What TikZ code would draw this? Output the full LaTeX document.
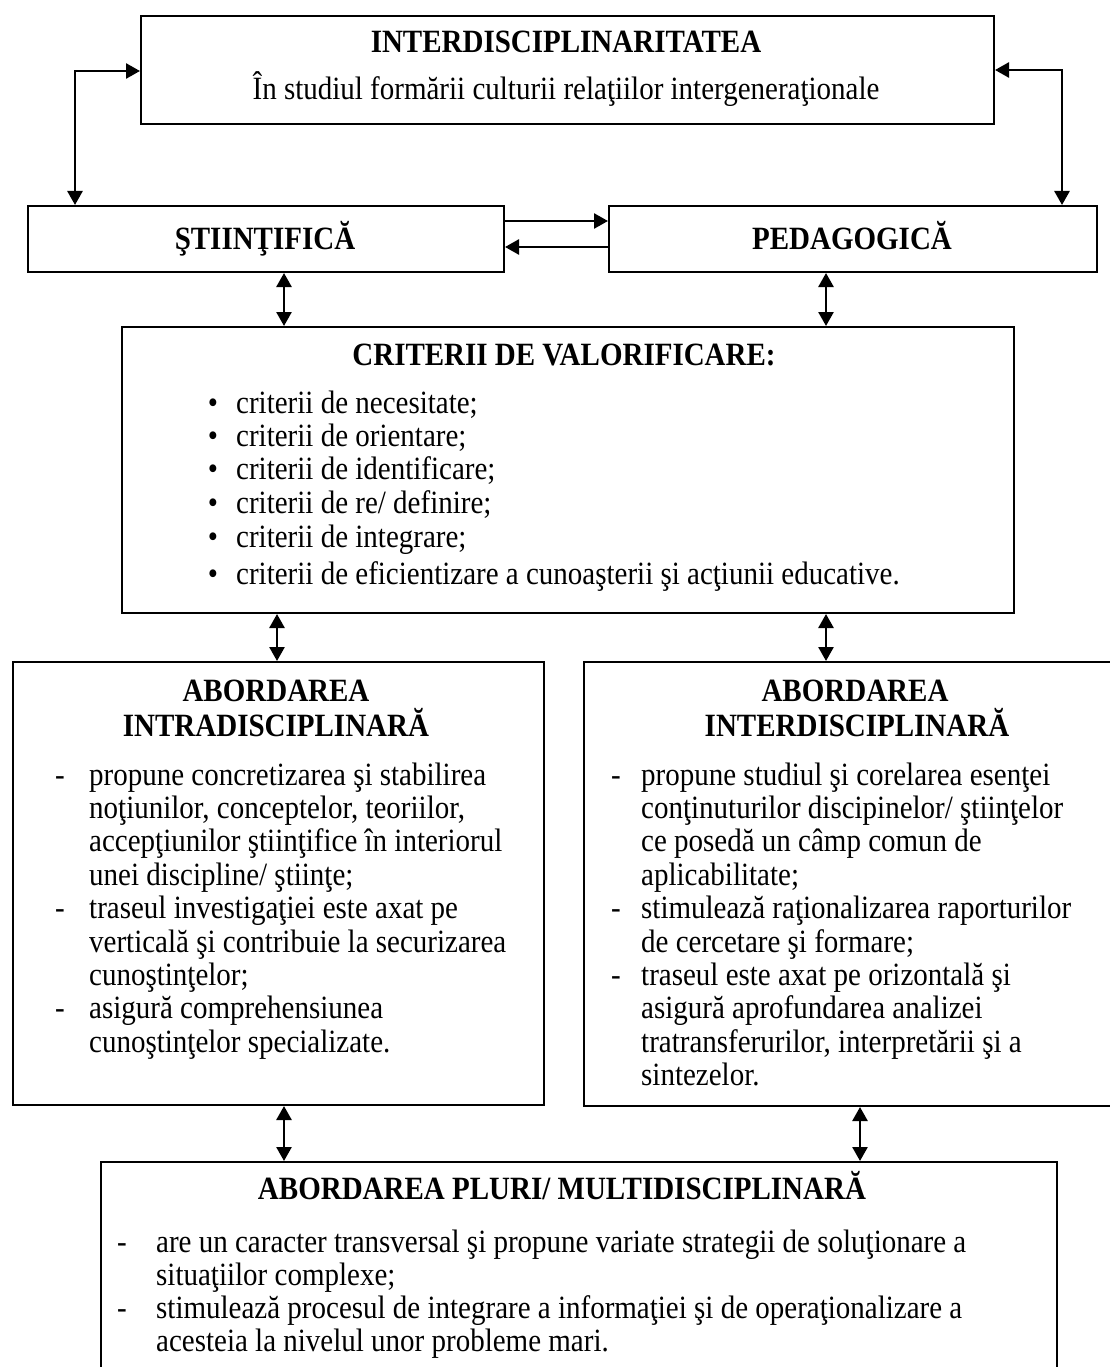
\documentclass[tikz,border=0pt]{standalone}
\usepackage{fontspec}
\setmainfont{Liberation Serif}
\usetikzlibrary{arrows.meta}
\newcommand\mystr[1]{\scalebox{1}[1.12]{#1}}
\begin{document}
\begin{tikzpicture}[x=1pt,y=-1pt,
  box/.style={draw, line width=2pt, rectangle, anchor=north west, inner sep=0pt},
  txt/.style={inner sep=0pt, font=\fontsize{29}{33}\selectfont},
  ttl/.style={inner sep=0pt, font=\fontsize{29}{33}\selectfont\bfseries, anchor=base},
  item/.style={txt, anchor=base west},
  dsh/.style={txt, anchor=base},
  conn/.style={line width=2.6pt, -{Triangle[length=14pt,width=15pt]}},
  dbl/.style={line width=2.6pt, {Triangle[length=14pt,width=15pt]}-{Triangle[length=14pt,width=15pt]}}]
\useasboundingbox (0,0) rectangle (1110,1367);
\clip (0,0) rectangle (1110,1367);

% boxes
\node[box, minimum width=853pt, minimum height=108pt] (top) at (140,15) {};
\node[box, minimum width=476pt, minimum height=66pt] (sti) at (27,205) {};
\node[box, minimum width=488pt, minimum height=66pt] (ped) at (608,205) {};
\node[box, minimum width=892pt, minimum height=286pt] (crit) at (121,326) {};
\node[box, minimum width=531pt, minimum height=443pt] (intra) at (12,661) {};
\node[box, minimum width=560pt, minimum height=444pt] (inter) at (583,661) {};
\node[box, minimum width=956pt, minimum height=260pt] (pluri) at (100,1161) {};

% top texts
\node[ttl] (t1) at (566,53) {\mystr{INTERDISCIPLINARITATEA}};
\node[txt, anchor=base] (t2) at (566,100) {\mystr{În studiul formării culturii relaţiilor intergeneraţionale}};
\node[ttl] (s1) at (265,249) {\mystr{ŞTIINŢIFICĂ}};
\node[ttl] (p1) at (852,249) {\mystr{PEDAGOGICĂ}};

% criterii
\node[ttl] (c0) at (564,365) {\mystr{CRITERII DE VALORIFICARE:}};
\node[dsh] (cb1) at (213,413) {\mystr{\textbullet}};
\node[item] (c1) at (236,413) {\mystr{criterii de necesitate;}};
\node[dsh] (cb2) at (213,446) {\mystr{\textbullet}};
\node[item] (c2) at (236,446) {\mystr{criterii de orientare;}};
\node[dsh] (cb3) at (213,479) {\mystr{\textbullet}};
\node[item] (c3) at (236,479) {\mystr{criterii de identificare;}};
\node[dsh] (cb4) at (213,513) {\mystr{\textbullet}};
\node[item] (c4) at (236,513) {\mystr{criterii de re/ definire;}};
\node[dsh] (cb5) at (213,547) {\mystr{\textbullet}};
\node[item] (c5) at (236,547) {\mystr{criterii de integrare;}};
\node[dsh] (cb6) at (213,584) {\mystr{\textbullet}};
\node[item] (c6) at (236,584) {\mystr{criterii de eficientizare a cunoaşterii şi acţiunii educative.}};

% intra
\node[ttl] (i0a) at (276,701) {\mystr{ABORDAREA}};
\node[ttl] (i0b) at (276,736) {\mystr{INTRADISCIPLINARĂ}};
\node[dsh] (id1) at (60,785) {\mystr{-}};
\node[item] (i1) at (89,785) {\mystr{propune concretizarea şi stabilirea}};
\node[item] (i2) at (89,818.4) {\mystr{noţiunilor, conceptelor, teoriilor,}};
\node[item] (i3) at (89,851.8) {\mystr{accepţiunilor ştiinţifice în interiorul}};
\node[item] (i4) at (89,885.2) {\mystr{unei discipline/ ştiinţe;}};
\node[dsh] (id2) at (60,918.6) {\mystr{-}};
\node[item] (i5) at (89,918.6) {\mystr{traseul investigaţiei este axat pe}};
\node[item] (i6) at (89,952) {\mystr{verticală şi contribuie la securizarea}};
\node[item] (i7) at (89,985.4) {\mystr{cunoştinţelor;}};
\node[dsh] (id3) at (60,1018.8) {\mystr{-}};
\node[item] (i8) at (89,1018.8) {\mystr{asigură comprehensiunea}};
\node[item] (i9) at (89,1052.2) {\mystr{cunoştinţelor specializate.}};

% inter
\node[ttl] (n0a) at (855,701) {\mystr{ABORDAREA}};
\node[ttl] (n0b) at (857,736) {\mystr{INTERDISCIPLINARĂ}};
\node[dsh] (nd1) at (616,785) {\mystr{-}};
\node[item] (n1) at (641,785) {\mystr{propune studiul şi corelarea esenţei}};
\node[item] (n2) at (641,818.4) {\mystr{conţinuturilor discipinelor/ ştiinţelor}};
\node[item] (n3) at (641,851.8) {\mystr{ce posedă un câmp comun de}};
\node[item] (n4) at (641,885.2) {\mystr{aplicabilitate;}};
\node[dsh] (nd2) at (616,918.6) {\mystr{-}};
\node[item] (n5) at (641,918.6) {\mystr{stimulează raţionalizarea raporturilor}};
\node[item] (n6) at (641,952) {\mystr{de cercetare şi formare;}};
\node[dsh] (nd3) at (616,985.4) {\mystr{-}};
\node[item] (n7) at (641,985.4) {\mystr{traseul este axat pe orizontală şi}};
\node[item] (n8) at (641,1018.8) {\mystr{asigură aprofundarea analizei}};
\node[item] (n9) at (641,1052.2) {\mystr{tratransferurilor, interpretării şi a}};
\node[item] (n10) at (641,1085.6) {\mystr{sintezelor.}};

% pluri
\node[ttl] (m0) at (562,1199) {\mystr{ABORDAREA PLURI/ MULTIDISCIPLINARĂ}};
\node[dsh] (md1) at (122,1252) {\mystr{-}};
\node[item] (m1) at (156,1252) {\mystr{are un caracter transversal şi propune variate strategii de soluţionare a}};
\node[item] (m2) at (156,1285) {\mystr{situaţiilor complexe;}};
\node[dsh] (md2) at (122,1318) {\mystr{-}};
\node[item] (m3) at (156,1318) {\mystr{stimulează procesul de integrare a informaţiei şi de operaţionalizare a}};
\node[item] (m4) at (156,1351) {\mystr{acesteia la nivelul unor probleme mari.}};

% connectors
\draw[dbl] (top.west |- 0,71) -| (sti.north -| 75,0);
\draw[dbl] (top.east |- 0,70) -| (ped.north -| 1062,0);
\draw[conn] (sti.east |- 0,221) -- (ped.west |- 0,221);
\draw[conn] (ped.west |- 0,247) -- (sti.east |- 0,247);
\draw[dbl] (sti.south -| 284,0) -- (crit.north -| 284,0);
\draw[dbl] (ped.south -| 826,0) -- (crit.north -| 826,0);
\draw[dbl] (crit.south -| 277,0) -- (intra.north -| 277,0);
\draw[dbl] (crit.south -| 826,0) -- (inter.north -| 826,0);
\draw[dbl] (intra.south -| 284,0) -- (pluri.north -| 284,0);
\draw[dbl] (inter.south -| 860,0) -- (pluri.north -| 860,0);
\end{tikzpicture}
\end{document}
